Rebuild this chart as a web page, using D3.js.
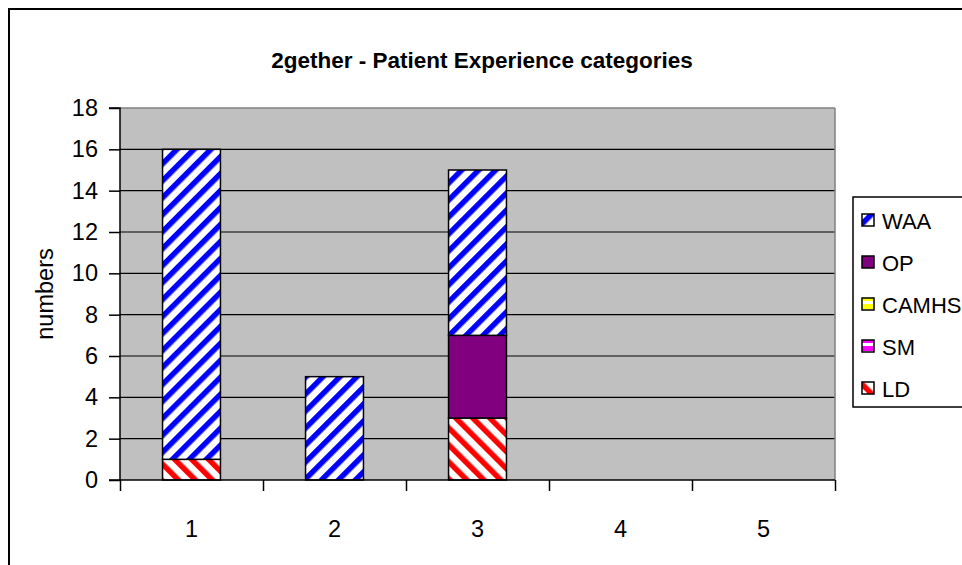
<!DOCTYPE html>
<html><head><meta charset="utf-8">
<script src="https://cdn.jsdelivr.net/npm/d3@7"></script>
<style>body{margin:0;background:#fff}svg{display:block;font-family:Arial,"Liberation Sans",sans-serif}</style>
</head><body>
<svg id="c" width="962" height="565"></svg>
<script>
const categories = ["1","2","3","4","5"];
const seriesNames = ["LD","SM","CAMHS","OP","WAA"]; // bottom to top
const LD    = [1,0,3,0,0];
const SM    = [0,0,0,0,0];
const CAMHS = [0,0,0,0,0];
const OP    = [0,0,4,0,0];
const WAA   = [15,5,8,0,0];
const yTicks = [0,2,4,6,8,10,12,14,16,18];
const title = "2gether - Patient Experience categories";
const yLabel = "numbers";

const values = {LD,SM,CAMHS,OP,WAA};
const svg = d3.select("#c");
const defs = svg.append("defs");
function stripes(id, color, angle, w, fillW){
  const p = defs.append("pattern").attr("id",id).attr("patternUnits","userSpaceOnUse")
    .attr("width",w).attr("height",w).attr("patternTransform",`rotate(${angle})`);
  p.append("rect").attr("width",w).attr("height",w).attr("fill","#fff");
  p.append("rect").attr("width",fillW).attr("height",w).attr("fill",color);
}
function hstripes(id, color, w, fillH){
  const p = defs.append("pattern").attr("id",id).attr("patternUnits","userSpaceOnUse")
    .attr("width",w).attr("height",w);
  p.append("rect").attr("width",w).attr("height",w).attr("fill","#fff");
  p.append("rect").attr("width",w).attr("height",fillH).attr("fill",color);
}
stripes("pWAA","#0000ff",45,12,5.5);
stripes("pLD","#ff0000",-45,12,5.5);
hstripes("pCAMHS","#ffff00",8,5);
hstripes("pSM","#ff00ff",8,5);
const fills = {WAA:"url(#pWAA)",LD:"url(#pLD)",CAMHS:"url(#pCAMHS)",SM:"url(#pSM)",OP:"#800080"};

// outer border
svg.append("rect").attr("x",9).attr("y",9).attr("width",970).attr("height",580)
  .attr("fill","none").attr("stroke","#000").attr("stroke-width",2);

const L=120,R=835,T=108,B=480;
const x = d3.scaleBand().domain(categories).range([L,R]).padding(0);
const y = d3.scaleLinear().domain([0,18]).range([B,T]);

svg.append("rect").attr("x",L).attr("y",T).attr("width",R-L).attr("height",B-T).attr("fill","#c0c0c0");
// gridlines
svg.append("g").selectAll("line").data(yTicks.filter(d=>d>0&&d<18)).join("line")
  .attr("x1",L).attr("x2",R).attr("y1",d=>y(d)).attr("y2",d=>y(d)).attr("stroke","#000").attr("stroke-width",1.2);
svg.append("line").attr("x1",L).attr("x2",R).attr("y1",y(18)).attr("y2",y(18)).attr("stroke","#808080").attr("stroke-width",1.5);
svg.append("line").attr("x1",R).attr("x2",R).attr("y1",T).attr("y2",B).attr("stroke","#808080").attr("stroke-width",1.5);

// stacked bars
const stackData = categories.map((c,i)=>{const o={cat:c}; seriesNames.forEach(s=>o[s]=values[s][i]); return o;});
const stacked = d3.stack().keys(seriesNames)(stackData);
const bw = x.step()*0.405;
const gBars = svg.append("g");
stacked.forEach(layer=>{
  gBars.append("g").selectAll("rect").data(layer.filter(d=>d[1]-d[0]>0)).join("rect")
    .attr("x",d=>x(d.data.cat)+x.bandwidth()/2-bw/2).attr("width",bw)
    .attr("y",d=>y(d[1])).attr("height",d=>y(d[0])-y(d[1]))
    .attr("fill",fills[layer.key]).attr("stroke","#000").attr("stroke-width",1.5);
});

// y axis
const yAxis = d3.axisLeft(y).tickValues(yTicks).tickSize(11).tickPadding(11).tickFormat(d3.format("d"));
const gy = svg.append("g").attr("transform",`translate(${L},0)`).call(yAxis);
gy.select(".domain").attr("stroke","#000").attr("stroke-width",1.5).attr("d",`M-11,${T}H0V${B}`);
gy.selectAll(".tick line").attr("stroke","#000").attr("stroke-width",1.5);
gy.selectAll(".tick text").attr("font-size",23.5).attr("fill","#000").attr("font-family","Arial, Liberation Sans, sans-serif");

// x axis
const xAxis = d3.axisBottom(d3.scaleLinear().domain([0,5]).range([L,R])).tickValues([0,1,2,3,4,5]).tickSize(11).tickFormat("");
const gx = svg.append("g").attr("transform",`translate(0,${B})`).call(xAxis);
gx.select(".domain").attr("stroke","#000").attr("stroke-width",1.5).attr("d",`M${L-11},0H${R}`);
gx.selectAll(".tick line").attr("stroke","#000").attr("stroke-width",1.5);
svg.append("g").selectAll("text").data(categories).join("text")
  .attr("x",d=>x(d)+x.bandwidth()/2).attr("y",537).attr("text-anchor","middle")
  .attr("font-size",23.5).text(d=>d);

// title
svg.append("text").attr("x",482).attr("y",68).attr("text-anchor","middle")
  .attr("font-size",22.5).attr("font-weight","bold").text(title);
// y label
svg.append("text").attr("transform","translate(53,294) rotate(-90)").attr("text-anchor","middle")
  .attr("font-size",23.5).text(yLabel);

// legend
svg.append("rect").attr("x",853).attr("y",197).attr("width",130).attr("height",210)
  .attr("fill","#fff").attr("stroke","#000").attr("stroke-width",1.5);
const legendOrder = seriesNames.slice().reverse();
const lg = svg.append("g").selectAll("g").data(legendOrder).join("g")
  .attr("transform",(d,i)=>`translate(862,${220+i*42})`);
lg.append("rect").attr("x",0).attr("y",-6).attr("width",12).attr("height",12)
  .attr("fill",d=>fills[d]).attr("stroke","#000").attr("stroke-width",1.5);
lg.append("text").attr("x",20).attr("y",8.5).attr("font-size",22).text(d=>d);
</script>
</body></html>
